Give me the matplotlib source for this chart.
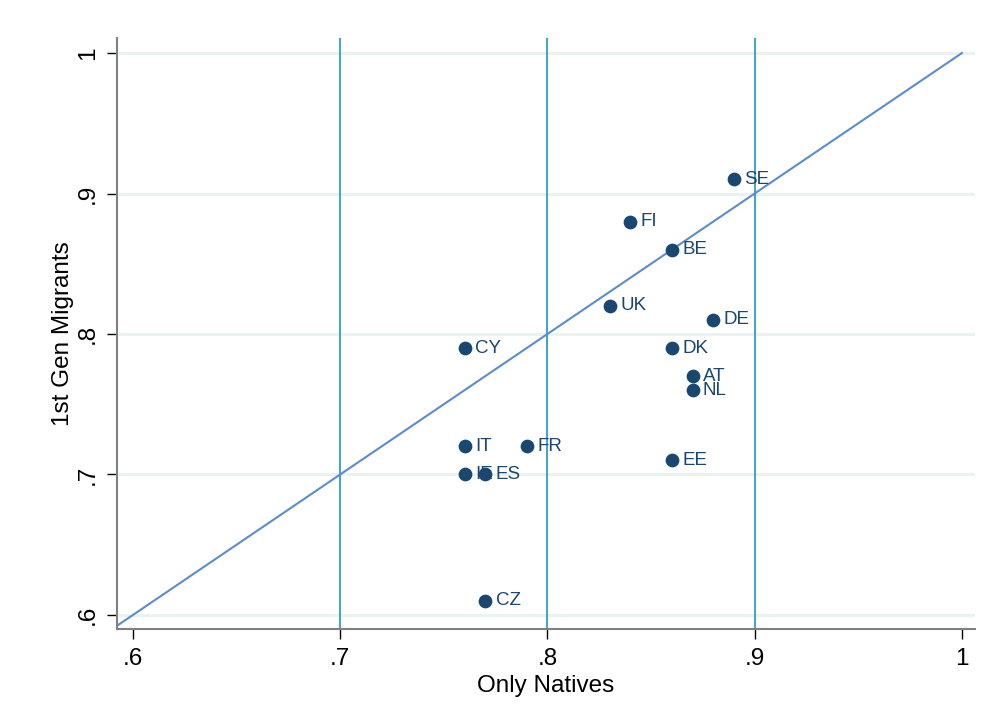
import matplotlib
matplotlib.use("Agg")
import matplotlib.pyplot as plt

plt.rcParams['font.family'] = ['Liberation Sans', 'DejaVu Sans']

countries = ["SE", "FI", "BE", "UK", "DE", "CY", "DK", "AT", "NL", "IT", "FR", "IE", "ES", "EE", "CZ"]
only_natives = [0.89, 0.84, 0.86, 0.83, 0.88, 0.76, 0.86, 0.87, 0.87, 0.76, 0.79, 0.76, 0.77, 0.86, 0.77]
first_gen = [0.91, 0.88, 0.86, 0.82, 0.81, 0.79, 0.79, 0.77, 0.76, 0.72, 0.72, 0.70, 0.70, 0.71, 0.61]

xticks = [0.6, 0.7, 0.8, 0.9, 1.0]
xticklabels = [".6", ".7", ".8", ".9", "1"]
yticks = [0.6, 0.7, 0.8, 0.9, 1.0]
yticklabels = [".6", ".7", ".8", ".9", "1"]
vlines = [0.7, 0.8, 0.9]

navy = "#1a476f"

fig = plt.figure(figsize=(10.03, 7.19), dpi=100)
fig.patch.set_facecolor("white")
ax = fig.add_axes([117/1003, 1-629/719, (975-117)/1003, (629-38)/719])
ax.set_xlim(0.5923, 1.0063)
ax.set_ylim(0.5900, 1.0107)

for y in yticks:
    ax.axhline(y, color="#eaf2f3", lw=2.2, zorder=0)
for x in vlines:
    ax.axvline(x, color="#4aa3c8", lw=1.5, zorder=1)

ax.plot([0.59, 1.0], [0.59, 1.0], color="#5b8ccb", lw=1.5, zorder=2, clip_on=True)

ax.scatter(only_natives, first_gen, s=98, color=navy, zorder=3, linewidths=0)
for c, x, y in zip(countries, only_natives, first_gen):
    ax.annotate(c, (x, y), xytext=(7.5, 0), textcoords="offset points",
                va="center", ha="left", fontsize=13.5, color=navy, zorder=4)

ax.set_xticks(xticks)
ax.set_xticklabels(xticklabels)
ax.set_yticks(yticks)
ax.set_yticklabels(yticklabels, rotation=90, va="center")
ax.tick_params(axis="both", direction="out", length=7, width=1, color="black",
               labelsize=17.5, labelcolor="black")
ax.tick_params(axis="x", pad=7)
ax.tick_params(axis="y", pad=6)

for s in ["top", "right"]:
    ax.spines[s].set_visible(False)
for s in ["left", "bottom"]:
    ax.spines[s].set_color("#808080")
    ax.spines[s].set_linewidth(1.5)

ax.set_xlabel("Only Natives", fontsize=17.5, labelpad=3)
ax.set_ylabel("1st Gen Migrants", fontsize=17.5, labelpad=2)

fig.savefig("out.png", dpi=100, facecolor="white")
